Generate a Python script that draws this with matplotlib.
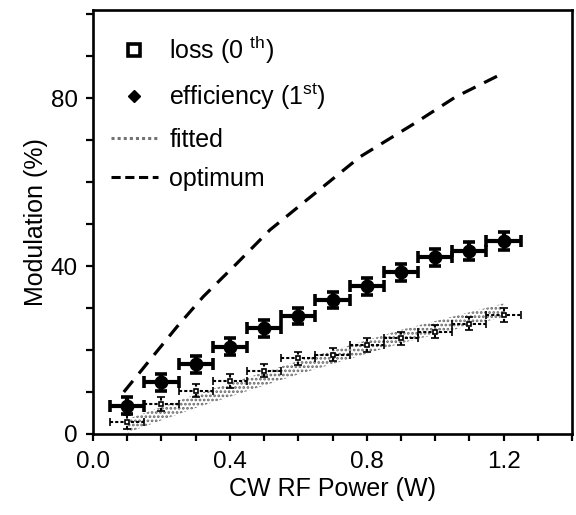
import matplotlib
matplotlib.use('Agg')
import matplotlib.pyplot as plt
from matplotlib.lines import Line2D
from matplotlib.ticker import MultipleLocator
import numpy as np

plt.rcParams['font.family'] = ['Liberation Sans', 'DejaVu Sans']
plt.rcParams['mathtext.fontset'] = 'custom'
plt.rcParams['mathtext.rm'] = 'Liberation Sans'
plt.rcParams['mathtext.it'] = 'Liberation Sans:italic'
plt.rcParams['hatch.linewidth'] = 1.3

# ---- data ----
power = [0.1, 0.2, 0.3, 0.4, 0.5, 0.6, 0.7, 0.8, 0.9, 1.0, 1.1, 1.2]
power_err = 0.05
efficiency = [6.7, 12.3, 16.6, 20.8, 25.2, 28.1, 31.9, 35.2, 38.5, 42.1, 43.6, 46.0]
efficiency_err = [2.0, 2.0, 2.0, 2.0, 2.0, 2.0, 2.0, 2.0, 2.0, 2.0, 2.2, 2.2]
loss = [2.9, 7.1, 10.3, 12.6, 15.1, 18.0, 18.9, 21.2, 22.8, 24.4, 26.3, 28.3]
loss_err = [1.6] * 12
fit_x = [0.1, 0.3, 0.6, 0.9, 1.2]
fit_y = [1.9, 7.8, 15.8, 23.2, 29.5]
fit_halfwidth = 1.6
opt_x = [0.09, 0.245, 0.322, 0.42, 0.517, 0.624, 0.78, 0.94, 1.06, 1.2]
opt_y = [10.0, 25.5, 32.7, 40.6, 48.6, 55.7, 66.0, 74.0, 80.3, 86.0]

fig = plt.figure(figsize=(5.76, 5.15), dpi=100)
ax = fig.add_axes([93/576, 81/515, 479/576, 424/515])

# fitted band (stippled)
fx = np.array(fit_x); fy = np.array(fit_y)
ax.fill_between(fx, fy - fit_halfwidth, fy + fit_halfwidth, facecolor='none',
                edgecolor='0.4', hatch='....', linewidth=0, zorder=1)

# optimum
ax.plot(opt_x, opt_y, color='black', lw=2.3, linestyle=(0, (4.5, 3)), zorder=2)

# loss (0th)
eb = ax.errorbar(power, loss, xerr=power_err, yerr=loss_err, fmt='s', ms=3.5,
                 mfc='white', mec='black', mew=1.2, ecolor='black',
                 elinewidth=1.5, capsize=3, capthick=1.4, zorder=3)
for lc in eb[2]:
    lc.set_linestyle((0, (1.5, 1)))

# efficiency (1st)
ax.errorbar(power, efficiency, xerr=power_err, yerr=efficiency_err, fmt='o',
            ms=9, color='black', elinewidth=3.0, capsize=4, capthick=2.6,
            zorder=4)

ax.set_xlim(0, 1.4)
ax.set_ylim(0, 101)
ax.xaxis.set_major_locator(MultipleLocator(0.4))
ax.xaxis.set_minor_locator(MultipleLocator(0.1))
ax.yaxis.set_major_locator(MultipleLocator(40))
ax.yaxis.set_minor_locator(MultipleLocator(10))
ax.xaxis.set_major_formatter(matplotlib.ticker.FormatStrFormatter('%.1f'))
ax.tick_params(which='both', direction='out', width=1.6, length=5,
               labelsize=17.5, top=False, right=False)
ax.tick_params(axis='y', which='both', pad=6)
ax.tick_params(axis='x', which='both', pad=7)
for s in ax.spines.values():
    s.set_linewidth(1.9)

ax.set_xlabel('CW RF Power (W)', fontsize=18, labelpad=3)
ax.set_ylabel('Modulation (%)', fontsize=18, labelpad=2)

handles = [
    Line2D([], [], marker='s', ms=8, mfc='white', mec='black', mew=2.6, ls='none'),
    Line2D([], [], marker='D', ms=6.5, color='black', ls='none'),
    Line2D([], [], color='0.45', lw=2.2, ls=(0, (1, 1))),
    Line2D([], [], color='black', lw=2.2, ls=(0, (3, 1.5))),
]
labels = ['loss (0 $^{\\mathrm{th}}$)', 'efficiency (1$^{\\mathrm{st}}$)',
          'fitted', 'optimum']
ax.legend(handles, labels, loc='upper left', bbox_to_anchor=(0.0, 0.985),
          frameon=False, fontsize=18, handlelength=1.9, handletextpad=0.45,
          labelspacing=0.62, borderaxespad=0.3)

fig.savefig('out.png', dpi=100)
